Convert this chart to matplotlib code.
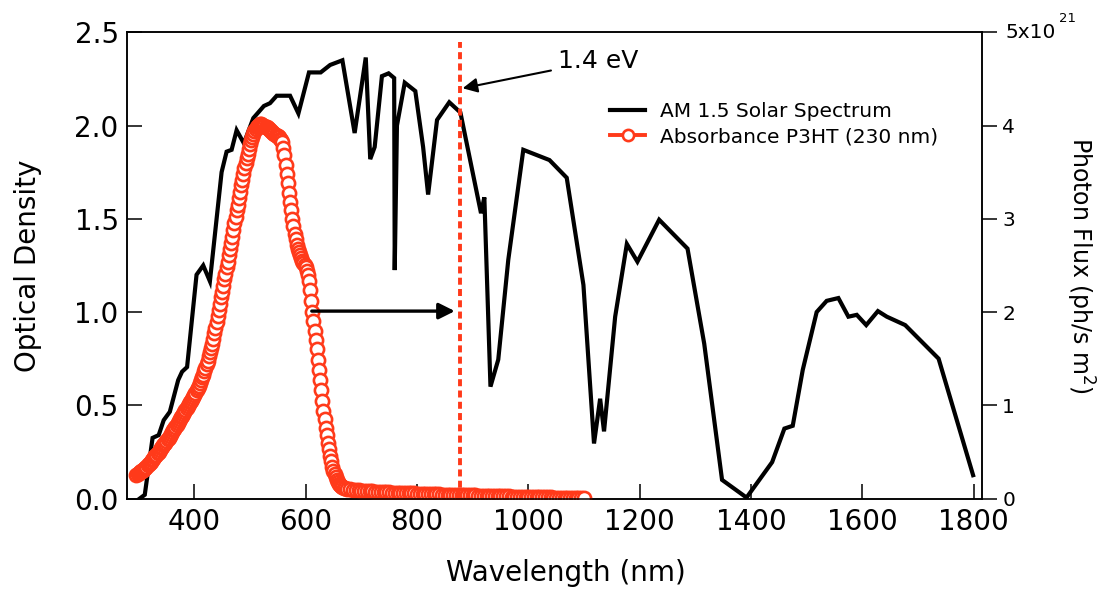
import numpy as np
import matplotlib
matplotlib.use("Agg")
import matplotlib.pyplot as plt

# ----- AM 1.5 solar spectrum, photon flux (units of 1e21 ph/s m^2) -----
am15_nm = [302, 311, 325, 336, 345, 356, 371, 378, 387, 404, 416, 428, 449, 458,
           467, 476, 489, 506, 525, 536, 548, 572, 587, 606, 627, 644, 666, 688,
           708, 716, 724, 737, 749, 759, 760, 764, 778, 797, 811, 820, 836, 858,
           878, 915, 921, 932, 946, 964, 991, 1038, 1069, 1099, 1118, 1129, 1136,
           1156, 1177, 1196, 1235, 1286, 1316, 1348, 1392, 1438, 1460, 1475, 1493,
           1518, 1536, 1557, 1575, 1590, 1607, 1628, 1644, 1677, 1737, 1799]
am15_flux = [0.0, 0.04, 0.65, 0.68, 0.84, 0.93, 1.27, 1.36, 1.41, 2.40, 2.50, 2.33, 3.50, 3.72,
             3.74, 3.95, 3.81, 4.08, 4.21, 4.24, 4.32, 4.32, 4.13, 4.57, 4.57, 4.65, 4.70, 3.92,
             4.73, 3.64, 3.77, 4.53, 4.56, 4.51, 2.45, 4.00, 4.46, 4.37, 3.77, 3.26, 4.06, 4.25,
             4.14, 3.06, 3.23, 1.20, 1.49, 2.56, 3.74, 3.63, 3.44, 2.29, 0.59, 1.07, 0.72,
             1.95, 2.73, 2.54, 2.99, 2.68, 1.66, 0.20, 0.01, 0.39, 0.75, 0.78, 1.38,
             2.00, 2.12, 2.15, 1.95, 1.97, 1.86, 2.01, 1.95, 1.86, 1.50, 0.25]

# ----- P3HT absorbance (230 nm film) -----
# sampling grid: 2 nm steps (296-668), 5 nm steps (670-1100)
p3ht_nm = np.concatenate([np.arange(296, 670, 2), np.arange(670, 1101, 5)])
p3ht_od = [
    # 296 - 438
    0.125, 0.13, 0.135, 0.14, 0.145, 0.15, 0.155, 0.16, 0.165, 0.171, 0.178, 0.184,
    0.19, 0.197, 0.205, 0.212, 0.22, 0.227, 0.235, 0.242, 0.25, 0.26, 0.27, 0.277,
    0.285, 0.292, 0.30, 0.31, 0.32, 0.327, 0.335, 0.345, 0.355, 0.365, 0.375, 0.385,
    0.395, 0.405, 0.415, 0.425, 0.435, 0.445, 0.455, 0.465, 0.475, 0.485, 0.495, 0.505,
    0.515, 0.525, 0.535, 0.545, 0.555, 0.567, 0.58, 0.592, 0.605, 0.62, 0.635, 0.65,
    0.665, 0.682, 0.70, 0.72, 0.74, 0.762, 0.785, 0.807, 0.83, 0.857, 0.885, 0.915,
    # 440 - 668
    0.945, 0.98, 1.01, 1.045, 1.08, 1.11, 1.14, 1.175, 1.205, 1.24, 1.27, 1.305,
    1.34, 1.37, 1.405, 1.44, 1.475, 1.51, 1.545, 1.575, 1.61, 1.645, 1.68, 1.71,
    1.74, 1.77, 1.80, 1.825, 1.85, 1.875, 1.90, 1.92, 1.94, 1.955, 1.97, 1.98,
    1.99, 2.0, 2.005, 2.01, 2.01, 2.005, 2.0, 1.995, 1.99, 1.99, 1.985, 1.98,
    1.975, 1.97, 1.965, 1.96, 1.955, 1.95, 1.945, 1.945, 1.94, 1.93, 1.925, 1.91,
    1.88, 1.84, 1.79, 1.74, 1.69, 1.64, 1.59, 1.545, 1.50, 1.46, 1.42, 1.39,
    1.36, 1.34, 1.32, 1.305, 1.29, 1.275, 1.265, 1.25, 1.24, 1.22, 1.20, 1.165,
    1.12, 1.06, 1.00, 0.95, 0.90, 0.85, 0.80, 0.745, 0.69, 0.635, 0.58, 0.525,
    0.47, 0.425, 0.38, 0.34, 0.30, 0.265, 0.23, 0.20, 0.17, 0.15, 0.13, 0.115,
    0.10, 0.09, 0.08, 0.074, 0.068, 0.063, 0.058,
    # 670 - 1100
    0.055, 0.052, 0.049, 0.047, 0.045, 0.044, 0.042, 0.041, 0.040, 0.039, 0.038, 0.037,
    0.036, 0.035, 0.034, 0.034, 0.033, 0.032, 0.031, 0.031, 0.030, 0.029, 0.029, 0.028,
    0.027, 0.027, 0.026, 0.026, 0.025, 0.024, 0.024, 0.023, 0.023, 0.022, 0.022, 0.021,
    0.021, 0.020, 0.020, 0.020, 0.019, 0.019, 0.019, 0.018, 0.018, 0.018, 0.017, 0.017,
    0.016, 0.016, 0.015, 0.015, 0.014, 0.014, 0.013, 0.013, 0.012, 0.012, 0.011, 0.011,
    0.010, 0.010, 0.010, 0.009, 0.009, 0.009, 0.008, 0.008, 0.008, 0.007, 0.007, 0.007,
    0.006, 0.006, 0.006, 0.005, 0.005, 0.005, 0.005, 0.004, 0.004, 0.004, 0.004, 0.003,
    0.003, 0.003, 0.003,
]

GAP_NM = 878        # 1.4 eV band-gap marker
RED = "#ff3a1a"

fig = plt.figure(figsize=(11.04, 5.91), dpi=100)
ax1 = fig.add_axes([0.115, 0.1565, 0.7745, 0.7888])
ax2 = ax1.twinx()

# solar spectrum on the right axis, drawn underneath
ax2.plot(am15_nm, am15_flux, color="black", lw=3.0, solid_joinstyle="miter",
         label="AM 1.5 Solar Spectrum")
ax1.set_zorder(ax2.get_zorder() + 1)
ax1.patch.set_visible(False)

ax1.plot(p3ht_nm, p3ht_od, color=RED, lw=2.8, marker="o", ms=9.5, mfc="white",
         mec=RED, mew=1.9, label="Absorbance P3HT (230 nm)")
ax1.plot([GAP_NM, GAP_NM], [0, 2.45], color=RED, lw=2.8, dashes=(1.8, 1.1))

# arrows
ax1.annotate("1.4 eV", xy=(882, 2.20), xytext=(1053, 2.346), fontsize=18,
             ha="left", va="center",
             arrowprops=dict(arrowstyle="-|>", color="black", lw=1.5,
                             mutation_scale=22, shrinkA=3, shrinkB=0))
ax1.annotate("", xy=(868, 1.005), xytext=(611, 1.005),
             arrowprops=dict(arrowstyle="-|>", color="black", lw=2.4,
                             mutation_scale=24, shrinkA=0, shrinkB=0))

ax1.set_xlim(279, 1815)
ax1.set_ylim(0, 2.5)
ax2.set_ylim(0, 5)
ax1.set_xticks(range(400, 1801, 200))
ax1.set_yticks([0, 0.5, 1.0, 1.5, 2.0, 2.5])
ax1.set_yticklabels(["0.0", "0.5", "1.0", "1.5", "2.0", "2.5"])
ax2.set_yticks([0, 1, 2, 3, 4, 5])
ax2.set_yticklabels(["0", "1", "2", "3", "4", ""])

ax1.tick_params(axis="both", direction="in", length=10.5, width=1.1, labelsize=20)
ax1.tick_params(axis="y", pad=6)
ax1.tick_params(axis="x", pad=7)
ax1.tick_params(top=False, right=False)
ax2.tick_params(axis="y", direction="out", length=10.5, width=1.1, labelsize=14.5, pad=4)
for ax in (ax1, ax2):
    for s in ax.spines.values():
        s.set_linewidth(1.1)

ax2.text(1.027, 1.0, "5x10", transform=ax2.transAxes, fontsize=14.5, ha="left", va="center")
ax2.text(1.0905, 1.029, "21", transform=ax2.transAxes, fontsize=9.5, ha="left", va="center")

ax1.set_xlabel("Wavelength (nm)", fontsize=20, va="center")
ax1.xaxis.set_label_coords(0.513, -0.16)
ax1.set_ylabel("Optical Density", fontsize=20, va="center")
ax1.yaxis.set_label_coords(-0.116, 0.5)
ax2.set_ylabel("Photon Flux (ph/s m$^2$)", fontsize=17, rotation=270, va="center")
ax2.yaxis.set_label_coords(1.1146, 0.5)

h2, l2 = ax2.get_legend_handles_labels()
h1, l1 = ax1.get_legend_handles_labels()
ax1.legend(h2 + h1, l2 + l1, loc="upper left", bbox_to_anchor=(0.565, 0.85),
           frameon=False, fontsize=14.5, borderaxespad=0, borderpad=0,
           handlelength=1.75, handletextpad=0.75, labelspacing=0.3, markerscale=0.85)

fig.savefig("out.png", dpi=100)
